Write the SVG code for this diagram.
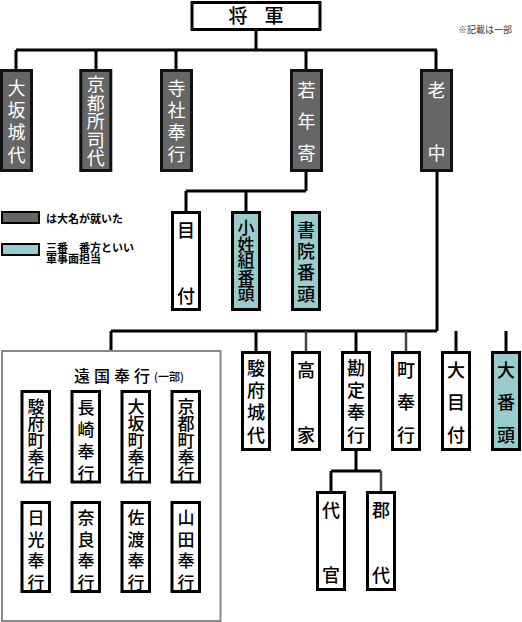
<svg xmlns="http://www.w3.org/2000/svg" width="522" height="622" viewBox="0 0 522 622">
<style>
.bg{fill:#ffffff}
.w{fill:#ffffff;stroke:#000;stroke-width:3}
.d{fill:#666666;stroke:#111;stroke-width:3}
.c{fill:#99cccc;stroke:#000;stroke-width:3}
.g{fill:#ffffff;stroke:#888;stroke-width:2}
.ln{stroke:#000;stroke-width:3;fill:none}
.ln2{stroke:#444;stroke-width:2.5;fill:none}
text{font-family:"Noto Sans CJK JP","Noto Sans CJK SC",sans-serif}
.v{writing-mode:vertical-rl;text-anchor:start}
.t{font-size:18px;fill:#000;font-weight:500}
.tw{font-size:18px;fill:#fff}
.ts{font-size:17px;fill:#000;font-weight:500}
.lg{font-size:11px;font-weight:bold;text-anchor:start;fill:#000}
.nt{font-size:9px;text-anchor:start;fill:#333}
</style>
<rect class="bg" x="0" y="0" width="522" height="622"/>

<g id="connectors">
<polyline class="ln" points="256,29 256,50"/>
<polyline class="ln" points="16,50 437,50"/>
<polyline class="ln" points="16,50 16,70"/>
<polyline class="ln" points="96,50 96,70"/>
<polyline class="ln" points="176,50 176,70"/>
<polyline class="ln" points="306,50 306,70"/>
<polyline class="ln" points="436,50 436,70"/>
<polyline class="ln" points="306,171 306,191"/>
<polyline class="ln" points="186,191 306,191"/>
<polyline class="ln" points="186,191 186,212"/>
<polyline class="ln" points="246,191 246,212"/>
<polyline class="ln" points="437,171 437,331"/>
<polyline class="ln" points="111,331 437,331"/>
<polyline class="ln" points="111,331 111,351"/>
<polyline class="ln" points="256,331 256,352"/>
<polyline class="ln2" points="306,331 306,352"/>
<polyline class="ln" points="356,331 356,352"/>
<polyline class="ln2" points="406,331 406,352"/>
<polyline class="ln" points="456,331 456,352"/>
<polyline class="ln" points="506,331 506,352"/>
<polyline class="ln" points="356,450 356,471"/>
<polyline class="ln" points="331,471 381,471"/>
<polyline class="ln" points="331,471 331,492"/>
<polyline class="ln2" points="381,471 381,492"/>
</g>

<g id="shogun">
<rect class="w" x="192" y="2.5" width="128" height="27"/>
<text y="23" style="font-size:19px;font-weight:500"><tspan x="228.5">将</tspan><tspan x="264.5">軍</tspan></text>
</g>
<text id="note" class="nt" x="458" y="33">※記載は一部</text>

<g id="osakajodai">
<rect class="d" x="1.5" y="70.5" width="30" height="100"/>
<text class="tw v" x="16.5" y="79" letter-spacing="4.3">大坂城代</text>
</g>
<g id="kyotoshoshidai">
<rect class="d" x="80.8" y="70.5" width="30" height="100"/>
<text class="tw v" x="95.8" y="75.5" letter-spacing="0.5">京都所司代</text>
</g>
<g id="jishabugyo">
<rect class="d" x="161.5" y="70.5" width="30" height="100"/>
<text class="tw v" x="176.5" y="79" letter-spacing="4">寺社奉行</text>
</g>
<g id="wakadoshiyori">
<rect class="d" x="291.5" y="70.5" width="30" height="100"/>
<text class="tw v" x="306.5" y="81"><tspan>若</tspan><tspan y="112.5">年</tspan><tspan y="144">寄</tspan></text>
</g>
<g id="roju">
<rect class="d" x="421.5" y="70.5" width="30" height="100"/>
<text class="tw v" x="436.5" y="81"><tspan>老</tspan><tspan y="144">中</tspan></text>
</g>

<g id="legend">
<rect x="2" y="212" width="37" height="11" fill="#666666" stroke="#000" stroke-width="2"/>
<text class="lg" x="46" y="223">は大名が就いた</text>
<rect x="2" y="244" width="37" height="11" fill="#99cccc" stroke="#000" stroke-width="2"/>
<text class="lg"><tspan x="46" y="251.5">三番　番方といい</tspan><tspan x="46" y="262.5">軍事面担当</tspan></text>
</g>

<g id="metsuke">
<rect class="w" x="172.5" y="212.5" width="27" height="97"/>
<text class="t v" x="186" y="221"><tspan>目</tspan><tspan y="287">付</tspan></text>
</g>
<g id="koshogumibangashira">
<rect class="c" x="232.5" y="212.5" width="27" height="97"/>
<text class="ts v" x="246" y="219.5" letter-spacing="-0.5">小姓組番頭</text>
</g>
<g id="shoinbangashira">
<rect class="c" x="292.5" y="212.5" width="27" height="97"/>
<text class="t v" x="306" y="221" letter-spacing="3.3">書院番頭</text>
</g>

<g id="ongokubugyo">
<rect class="g" x="2" y="351" width="218.5" height="270"/>
<text x="74" y="382" style="font-size:16px;font-weight:500"><tspan letter-spacing="4">遠国奉行</tspan><tspan style="font-size:11px" y="381">(一部)</tspan></text>
</g>
<g id="sunpumachibugyo">
<rect class="w" x="22" y="391.5" width="27.5" height="90.5"/>
<text class="ts v" x="36" y="398">駿府町奉行</text>
</g>
<g id="nagasakibugyo">
<rect class="w" x="72" y="391.5" width="27.5" height="90.5"/>
<text class="ts v" x="86" y="399.5" letter-spacing="5">長崎奉行</text>
</g>
<g id="osakamachibugyo">
<rect class="w" x="122" y="391.5" width="27.5" height="90.5"/>
<text class="ts v" x="136" y="398">大坂町奉行</text>
</g>
<g id="kyotomachibugyo">
<rect class="w" x="172" y="391.5" width="27.5" height="90.5"/>
<text class="ts v" x="186" y="398">京都町奉行</text>
</g>
<g id="nikkobugyo">
<rect class="w" x="22" y="502.5" width="27.5" height="89"/>
<text class="ts v" x="36" y="509" letter-spacing="4.7">日光奉行</text>
</g>
<g id="narabugyo">
<rect class="w" x="72" y="502.5" width="27.5" height="89"/>
<text class="ts v" x="86" y="509" letter-spacing="4.7">奈良奉行</text>
</g>
<g id="sadobugyo">
<rect class="w" x="122" y="502.5" width="27.5" height="89"/>
<text class="ts v" x="136" y="509" letter-spacing="4.7">佐渡奉行</text>
</g>
<g id="yamadabugyo">
<rect class="w" x="172" y="502.5" width="27.5" height="89"/>
<text class="ts v" x="186" y="509" letter-spacing="4.7">山田奉行</text>
</g>

<g id="sunpujodai">
<rect class="w" x="242.5" y="352.5" width="27" height="97"/>
<text class="t v" x="256" y="359" letter-spacing="4.3">駿府城代</text>
</g>
<g id="koke">
<rect class="w" x="292.5" y="352.5" width="27" height="97"/>
<text class="t v" x="306" y="361"><tspan>高</tspan><tspan y="426">家</tspan></text>
</g>
<g id="kanjobugyo">
<rect class="w" x="342.5" y="352.5" width="27" height="97"/>
<text class="t v" x="356" y="359" letter-spacing="4.3">勘定奉行</text>
</g>
<g id="machibugyo">
<rect class="w" x="392.5" y="352.5" width="27" height="97"/>
<text class="t v" x="406" y="361"><tspan>町</tspan><tspan y="393.5">奉</tspan><tspan y="426">行</tspan></text>
</g>
<g id="ometsuke">
<rect class="w" x="442.5" y="352.5" width="27" height="97"/>
<text class="t v" x="456" y="361"><tspan>大</tspan><tspan y="393.5">目</tspan><tspan y="426">付</tspan></text>
</g>
<g id="obangashira">
<rect class="c" x="492.5" y="352.5" width="27" height="97"/>
<text class="t v" x="506" y="361"><tspan>大</tspan><tspan y="393.5">番</tspan><tspan y="426">頭</tspan></text>
</g>
<g id="daikan">
<rect class="w" x="317.5" y="492.5" width="27" height="97"/>
<text class="t v" x="331" y="501"><tspan>代</tspan><tspan y="566">官</tspan></text>
</g>
<g id="gundai">
<rect class="w" x="367.5" y="492.5" width="27" height="97"/>
<text class="t v" x="381" y="501"><tspan>郡</tspan><tspan y="566">代</tspan></text>
</g>
</svg>
